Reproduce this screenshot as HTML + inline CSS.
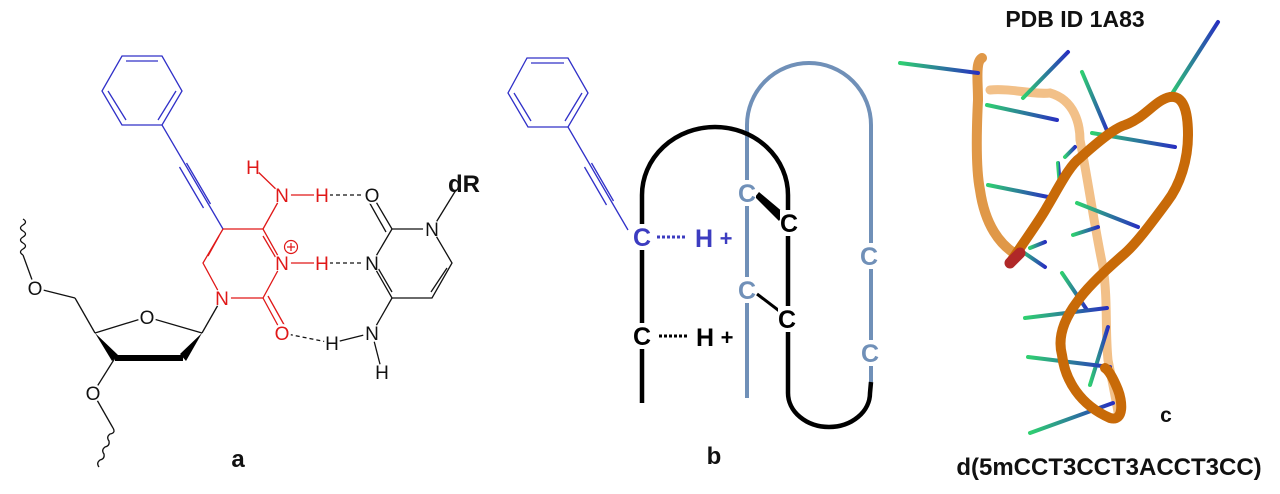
<!DOCTYPE html>
<html><head><meta charset="utf-8"><style>
html,body{margin:0;padding:0;background:#fff;width:1280px;height:494px;overflow:hidden}
svg{display:block}
.at{font-family:"Liberation Sans",sans-serif;font-size:19px;text-anchor:middle}
.bl{font-family:"Liberation Sans",sans-serif;font-weight:bold;text-anchor:middle}
.bc{font-family:"Liberation Sans",sans-serif;font-weight:bold;font-size:25px;text-anchor:middle}
</style></head><body>
<svg width="1280" height="494" viewBox="0 0 1280 494" xmlns="http://www.w3.org/2000/svg">
<defs>
<linearGradient id="g1" x1="0" y1="0" x2="1" y2="0"><stop offset="0" stop-color="#2fd070"/><stop offset="1" stop-color="#2830c0"/></linearGradient>
</defs>

<!-- ===== Panel a ===== -->
<g fill="none" stroke-width="1.3">
 <g stroke="#3030c8">
  <polygon points="122,56 162,56 182,91 162,125 122,125 102,91"/>
  <line x1="126" y1="61" x2="158" y2="61"/>
  <line x1="176" y1="91" x2="158" y2="120"/>
  <line x1="108" y1="91" x2="126" y2="120"/>
  <line x1="162" y1="125" x2="223" y2="229"/>
  <line x1="186.5" y1="163" x2="210.5" y2="204"/>
  <line x1="179.5" y1="167" x2="203.5" y2="208"/>
 </g>
 <g stroke="#e01818">
  <polyline points="223,229 263,229 282,263 263,298 222,298 203,263 223,229"/>
  <line x1="219" y1="236" x2="208" y2="256"/>
  <line x1="263" y1="236" x2="276" y2="258"/>
  <line x1="263" y1="229" x2="282" y2="195"/>
  <line x1="282" y1="195" x2="322" y2="195"/>
  <line x1="282" y1="195" x2="253" y2="167"/>
  <line x1="282" y1="263" x2="322" y2="263"/>
  <line x1="263" y1="298" x2="282" y2="333"/>
  <line x1="268" y1="296" x2="287" y2="330"/>
 </g>
 <g stroke="#111">
  <polyline points="372,195 392,229 432,229 452,263 432,298 392,298 372,263 392,229"/>
  <line x1="386" y1="232" x2="368" y2="200"/>
  <line x1="447" y1="268" x2="431" y2="292"/>
  <line x1="378" y1="268" x2="392" y2="292"/>
  <line x1="432" y1="229" x2="456" y2="190"/>
  <line x1="392" y1="298" x2="372" y2="333"/>
  <line x1="372" y1="333" x2="332" y2="343"/>
  <line x1="372" y1="333" x2="382" y2="372"/>
  <line x1="322" y1="195" x2="372" y2="195" stroke-dasharray="4,3"/>
  <line x1="322" y1="263" x2="372" y2="263" stroke-dasharray="4,3"/>
  <line x1="282" y1="333" x2="332" y2="343" stroke-dasharray="4,3"/>
  <line x1="222" y1="298" x2="202" y2="333"/>
  <polyline points="202,333 147,317 95,333"/>
  <line x1="95" y1="333" x2="75" y2="298"/>
  <line x1="75" y1="298" x2="35" y2="288"/>
  <line x1="35" y1="288" x2="23" y2="255"/>
  <path d="M23,255 q-5,-3 0,-6 q5,-3 0,-6 q-5,-3 0,-6 q5,-3 0,-6 q-5,-3 0,-6 q5,-3 0,-6"/>
  <line x1="115" y1="358" x2="93" y2="393"/>
  <line x1="93" y1="393" x2="113" y2="428"/>
  <path d="M113,428 q3,5 -3,6 q-4,3 -1,7 q1,5 -4,6 q-4,3 -1,7 q1,5 -4,6 q-4,3 -1,7"/>
 </g>
 <polygon points="95,333 112,361 118,355" fill="#000"/>
 <line x1="115" y1="358" x2="183" y2="358" stroke="#000" stroke-width="6"/>
 <polygon points="202,333 180,354 186,361" fill="#000"/>
</g>
<g fill="#fff">
 <circle cx="253" cy="167" r="8"/><circle cx="282" cy="195" r="9"/><circle cx="322" cy="195" r="8"/>
 <circle cx="282" cy="263" r="9"/><circle cx="322" cy="263" r="8"/><circle cx="222" cy="298" r="9"/>
 <circle cx="282" cy="333" r="9"/><circle cx="372" cy="195" r="9"/><circle cx="432" cy="229" r="9"/>
 <circle cx="372" cy="263" r="9"/><circle cx="372" cy="333" r="9"/><circle cx="332" cy="343" r="8"/>
 <circle cx="382" cy="372" r="8"/><circle cx="147" cy="317" r="9"/><circle cx="35" cy="288" r="9"/>
 <circle cx="93" cy="393" r="9"/>
</g>
<g class="at">
 <text x="253" y="174" fill="#e01818">H</text>
 <text x="282" y="202" fill="#e01818">N</text>
 <text x="322" y="202" fill="#e01818">H</text>
 <text x="282" y="270" fill="#e01818">N</text>
 <text x="322" y="270" fill="#e01818">H</text>
 <text x="222" y="305" fill="#e01818">N</text>
 <text x="282" y="340" fill="#e01818">O</text>
 <text x="372" y="202" fill="#111">O</text>
 <text x="432" y="236" fill="#111">N</text>
 <text x="372" y="270" fill="#111">N</text>
 <text x="372" y="340" fill="#111">N</text>
 <text x="332" y="350" fill="#111">H</text>
 <text x="382" y="379" fill="#111">H</text>
 <text x="147" y="324" fill="#111">O</text>
 <text x="35" y="295" fill="#111">O</text>
 <text x="93" y="400" fill="#111">O</text>
</g>
<g fill="none" stroke="#e01818" stroke-width="1.2">
 <circle cx="291" cy="247" r="6.5" fill="#fff"/>
 <line x1="287" y1="247" x2="295" y2="247"/><line x1="291" y1="243" x2="291" y2="251"/>
</g>
<text class="bl" x="464" y="192" font-size="24" fill="#111">dR</text>
<text class="bl" x="238" y="467" font-size="24" fill="#111">a</text>

<!-- ===== Panel b ===== -->
<g fill="none" stroke-width="1.3" stroke="#3030c8">
 <polygon points="527,58 568,58 588,93 568,127 528,127 508,93"/>
 <line x1="531" y1="63" x2="564" y2="63"/>
 <line x1="582" y1="93" x2="565" y2="121"/>
 <line x1="514" y1="93" x2="531" y2="121"/>
 <line x1="568" y1="127" x2="628" y2="230"/>
 <line x1="591.5" y1="163" x2="613.5" y2="201"/>
 <line x1="584.5" y1="167" x2="606.5" y2="205"/>
</g>
<path d="M747,398 L747,125 A62,62 0 0 1 871,125 L871,382" fill="none" stroke="#7090b8" stroke-width="4"/>
<path d="M642,403 L642,195 A73,68 0 0 1 788,195 L788,393 A41,34 0 0 0 870,393 L871,382" fill="none" stroke="#000" stroke-width="4.5"/>
<polygon points="755,197 759,192 784,213 779,221" fill="#000"/>
<line x1="757" y1="294" x2="782" y2="313" stroke="#000" stroke-width="3"/>
<g fill="#fff">
 <rect x="738" y="180" width="18" height="26"/><rect x="780" y="210" width="18" height="26"/>
 <rect x="738" y="277" width="18" height="26"/><rect x="778" y="306" width="18" height="26"/>
 <rect x="860" y="243" width="18" height="26"/><rect x="861" y="340" width="18" height="26"/>
 <rect x="633" y="224" width="18" height="26"/><rect x="633" y="323" width="18" height="26"/>
</g>
<g class="bc">
 <text x="747" y="202" fill="#7090b8">C</text>
 <text x="789" y="232" fill="#000">C</text>
 <text x="747" y="299" fill="#7090b8">C</text>
 <text x="787" y="328" fill="#000">C</text>
 <text x="869" y="265" fill="#7090b8">C</text>
 <text x="870" y="362" fill="#7090b8">C</text>
 <text x="642" y="246" fill="#3c3cc0">C</text>
 <text x="642" y="345" fill="#000">C</text>
</g>
<line x1="657" y1="237" x2="685" y2="237" stroke="#3c3cc0" stroke-width="3" stroke-dasharray="3,2"/>
<line x1="659" y1="336" x2="687" y2="336" stroke="#000" stroke-width="3" stroke-dasharray="3,2"/>
<text class="bl" x="704" y="247" font-size="25" fill="#3c3cc0">H</text>
<text class="bl" x="726" y="246" font-size="22" fill="#3c3cc0">+</text>
<text class="bl" x="705" y="346" font-size="25" fill="#000">H</text>
<text class="bl" x="727" y="345" font-size="22" fill="#000">+</text>
<text class="bl" x="714" y="464" font-size="24" fill="#111">b</text>

<!-- ===== Panel c ===== -->
<text class="bl" x="1075" y="27" font-size="23" fill="#111">PDB ID 1A83</text>
<path d="M990,90 C1010,88 1035,95 1050,93 C1075,100 1080,125 1080,140 C1088,180 1095,230 1103,267 C1108,300 1105,330 1108,360 C1112,380 1116,400 1118,412" fill="none" stroke="#f2c088" stroke-width="9" stroke-linecap="round"/>
<path d="M982,58 C975,62 978,80 978,100 C976,140 976,170 980,190 C985,225 1000,245 1017,255" fill="none" stroke="#e09848" stroke-width="10" stroke-linecap="round"/>
<g stroke="url(#g1)" stroke-width="4" stroke-linecap="round">
 <line x1="978" y1="73" x2="900" y2="63"/>
 <line x1="1023" y1="98" x2="1068" y2="52"/>
 <line x1="987" y1="105" x2="1057" y2="120"/>
 <line x1="1168" y1="100" x2="1218" y2="22"/>
 <line x1="1108" y1="133" x2="1082" y2="72"/>
 <line x1="1175" y1="147" x2="1092" y2="133"/>
 <line x1="1075" y1="147" x2="1065" y2="157"/>
 <line x1="1058" y1="163" x2="1060" y2="187"/>
 <line x1="988" y1="185" x2="1048" y2="197"/>
 <line x1="1138" y1="227" x2="1077" y2="203"/>
 <line x1="1098" y1="227" x2="1073" y2="235"/>
 <line x1="1045" y1="242" x2="1030" y2="248"/>
 <line x1="1020" y1="250" x2="1045" y2="267"/>
 <line x1="1087" y1="310" x2="1062" y2="273"/>
 <line x1="1107" y1="308" x2="1025" y2="318"/>
 <line x1="1090" y1="385" x2="1108" y2="327"/>
 <line x1="1110" y1="367" x2="1028" y2="357"/>
 <line x1="1113" y1="403" x2="1030" y2="433"/>
</g>
<path d="M1010,263 C1025,240 1040,220 1047,207 C1060,185 1070,165 1080,158 C1100,140 1115,128 1125,125 C1145,118 1155,100 1170,97 C1183,95 1188,110 1188,135 C1188,160 1180,185 1167,202 C1150,225 1135,245 1123,255 C1100,275 1085,290 1077,302 C1062,322 1058,340 1062,355 C1065,380 1080,405 1110,418 C1125,422 1122,400 1118,390 C1112,375 1108,370 1105,368" fill="none" stroke="#c86a08" stroke-width="10" stroke-linecap="round"/>
<path d="M1010,263 L1020,253" stroke="#b02828" stroke-width="11" stroke-linecap="round"/>
<text class="bl" x="1166" y="422" font-size="21" fill="#111">c</text>
<text class="bl" x="1109" y="475" font-size="24" fill="#111">d(5mCCT3CCT3ACCT3CC)</text>
</svg>
</body></html>
